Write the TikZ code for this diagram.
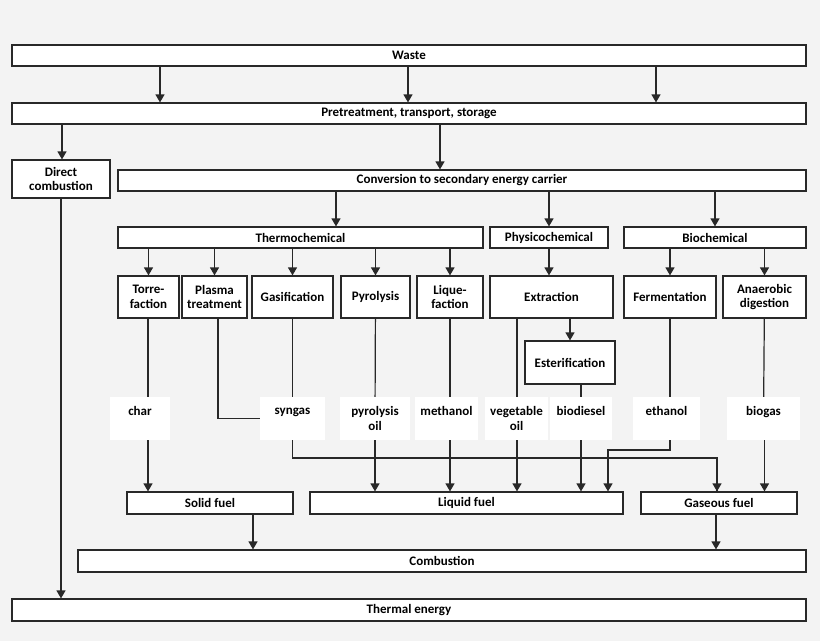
\documentclass[tikz,border=0pt]{standalone}
\usepackage{fontspec}
\setmainfont{Carlito}
\usetikzlibrary{arrows.meta,calc}
\definecolor{bg}{RGB}{243,243,243}
\definecolor{edge}{RGB}{40,40,40}

\begin{document}
\begin{tikzpicture}
[
x=1pt,y=-1pt,
box/.style 2 args={draw=edge,fill=white,line width=1.2pt,inner sep=0pt,
  minimum width=#1,minimum height=#2,align=center,
  font=\fontsize{13}{14.5}\selectfont\bfseries},
product/.style={fill=white,inner sep=0pt,minimum width=#1,minimum height=43,
  align=center,font=\fontsize{13}{14.5}\selectfont\bfseries},
arr/.style={draw=edge,line width=1.2pt,-{Triangle[width=9pt,length=8pt]}},
link/.style={draw=edge,line width=1.2pt},
]
\fill[bg] (0,0) rectangle (820,641);

%Place the nodes
\node[box={794}{21}] (waste) at (409,55.5) {Waste};
\node[box={794}{21}] (pre) at (409,113.5) {Pretreatment, transport, storage};
\node[box={98}{38}] (direct) at (61,179) {Direct\\combustion};
\node[box={688}{21}] (conv) at (462,180.5) {Conversion to secondary energy carrier};
\node[box={365}{21}] (thermo) at (300.5,237.5) {Thermochemical};
\node[box={118}{21}] (physico) at (549,237.5) {Physicochemical};
\node[box={182}{21}] (bio) at (715,237.5) {Biochemical};
\node[box={61}{42}] (torre) at (148.5,297) {Torre-\\faction};
\node[box={65}{42}] (plasma) at (214.5,297) {Plasma\\treatment};
\node[box={81}{42}] (gasif) at (292.5,297) {Gasification};
\node[box={69}{42}] (pyrol) at (375.5,297) {Pyrolysis};
\node[box={66}{42}] (lique) at (450,297) {Lique-\\faction};
\node[box={123}{42}] (extr) at (551.5,297) {Extraction};
\node[box={92}{42}] (ferm) at (670,297) {Fermentation};
\node[box={83}{42}] (anaer) at (764.5,297) {Anaerobic\\digestion};
\node[box={90}{43}] (ester) at (570,362.5) {Esterification};
%Products
\node[product=60] (char) at (140,418.5) {char\\~};
\node[product=65] (syngas) at (292.5,418.5) {syngas\\~};
\node[product=70] (pyroil) at (375,418.5) {pyrolysis\\oil};
\node[product=63] (meth) at (446.5,418.5) {methanol\\~};
\node[product=63] (veg) at (516.5,418.5) {vegetable\\oil};
\node[product=62] (biod) at (581,418.5) {biodiesel\\~};
\node[product=67] (eth) at (666.5,418.5) {ethanol\\~};
\node[product=73] (biogas) at (763.5,418.5) {biogas\\~};
%Fuels
\node[box={166}{22}] (solid) at (210,503) {Solid fuel};
\node[box={313}{22}] (liquid) at (466.5,503) {Liquid fuel};
\node[box={156}{22}] (gas) at (719,503) {Gaseous fuel};
\node[box={728}{22}] (comb) at (442,561) {Combustion};
\node[box={794}{22}] (thermal) at (409,610) {Thermal energy};

%Draw the connections
\foreach \x in {160,408,656}
  \draw[arr] (\x,0 |- waste.south) -- (\x,0 |- pre.north);
\draw[arr] (62,0 |- pre.south) -- (62,0 |- direct.north);
\draw[arr] (440,0 |- pre.south) -- (440,0 |- conv.north);
\draw[arr] (336,0 |- conv.south) -- (336,0 |- thermo.north);
\draw[arr] (conv.south -| physico) -- (physico);
\draw[arr] (conv.south -| bio) -- (bio);
\foreach \n in {torre,plasma,gasif,pyrol,lique}
  \draw[arr] (thermo.south -| \n) -- (\n);
\draw[arr] (physico) -- (physico |- extr.north);
\draw[arr] (bio.south -| ferm) -- (ferm);
\draw[arr] (bio.south -| anaer) -- (anaer);
\draw[arr] (extr.south -| ester) -- (ester);
\draw[link] (148,0 |- torre.south) -- (148,0 |- char.north);
\draw[link] (218,0 |- plasma.south) |- (syngas.west);
\draw[link] (gasif) -- (syngas);
\draw[link] (pyrol) -- (pyroil);
\draw[link] (lique) -- (lique |- meth.north);
\draw[link] (517,0 |- extr.south) -- (517,0 |- veg.north);
\draw[link] (ester.south -| biod) -- (biod);
\draw[link] (ferm.south) -- (ferm.south |- eth.north);
\draw[link] (anaer) -- (biogas);
\coordinate (sg) at (292,458);
\coordinate (ek) at (608,450);
\draw[link] (syngas) |- (sg) -| (gas.north -| 717,0);
\foreach \n in {pyroil,meth,veg,biod,ek}
  \fill[bg] ($(\n |- sg)+(-8,-3)$) rectangle ($(\n |- sg)+(8,3)$);
\draw[arr] (148,0 |- char.south) -- (148,0 |- solid.north);
\draw[arr] (syngas |- sg) -| (717,0 |- gas.north);
\draw[arr] (pyroil) -- (pyroil |- liquid.north);
\draw[arr] (lique |- meth.south) -- (lique |- liquid.north);
\draw[arr] (517,0 |- veg.south) -- (517,0 |- liquid.north);
\draw[arr] (biod) -- (biod |- liquid.north);
\draw[arr] (ferm.south |- eth.south) |- (ek) -- (ek |- liquid.north);
\draw[arr] (anaer |- biogas.south) -- (anaer |- gas.north);
\draw[arr] (253,0 |- solid.south) -- (253,0 |- comb.north);
\draw[arr] (716,0 |- gas.south) -- (716,0 |- comb.north);
\draw[arr] (direct) -- (direct |- thermal.north);
\end{tikzpicture}
\end{document}
